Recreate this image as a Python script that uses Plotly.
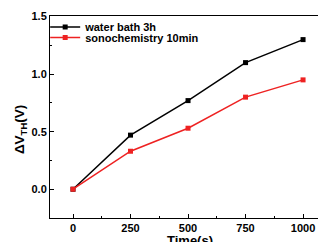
import plotly.graph_objects as go

time_s = [0, 250, 500, 750, 1000]
water_bath = [0.0, 0.47, 0.77, 1.10, 1.30]
sonochem = [0.0, 0.33, 0.53, 0.80, 0.95]
names = ["water bath 3h", "sonochemistry 10min"]
x_ticks = [0, 250, 500, 750, 1000]
y_ticks = [0.0, 0.5, 1.0, 1.5]
x_title = "Time(s)"
y_title = "ΔV<sub>TH</sub>(V)"

font = "Liberation Sans, Arial, sans-serif"

fig = go.Figure()
fig.add_trace(go.Scatter(x=time_s, y=water_bath, name="<b>" + names[0] + "</b>", mode="lines+markers",
                         line=dict(color="black", width=1.5),
                         marker=dict(symbol="square", size=5, color="black"),
                         legend="legend"))
fig.add_trace(go.Scatter(x=time_s, y=sonochem, name="<b>" + names[1] + "</b>", mode="lines+markers",
                         line=dict(color="#ee2222", width=1.5),
                         marker=dict(symbol="square", size=5, color="#ee2222"),
                         legend="legend2"))

leg = dict(xanchor="left", yanchor="middle", bgcolor="rgba(0,0,0,0)", itemwidth=30,
           font=dict(family=font, size=11, color="black"), borderwidth=0)

fig.update_layout(
    width=318, height=242,
    margin=dict(l=50, r=0, t=16, b=24),
    plot_bgcolor="white", paper_bgcolor="white",
    font=dict(family=font, color="black"),
    showlegend=True,
    legend=dict(leg, x=-0.018, y=0.945),
    legend2=dict(leg, x=-0.018, y=0.893),
)
fig.update_xaxes(
    range=[-100, 1065], tickvals=x_ticks, ticktext=["<b>%d</b>" % v for v in x_ticks],
    ticks="inside", ticklen=4, tickwidth=1, tickcolor="black",
    minor=dict(ticks="inside", ticklen=2, dtick=125, tick0=0, tickcolor="black"),
    showline=True, linecolor="black", linewidth=1, mirror=True,
    showgrid=False, zeroline=False,
    tickfont=dict(family=font, size=11, color="black"),
    automargin=False,
)
fig.update_yaxes(
    range=[-0.25, 1.505], tickvals=y_ticks, ticktext=["<b>%.1f</b>" % v for v in y_ticks],
    ticks="inside", ticklen=4, tickwidth=1, tickcolor="black",
    minor=dict(ticks="inside", ticklen=2, dtick=0.25, tick0=0, tickcolor="black"),
    showline=True, linecolor="black", linewidth=1, mirror=False,
    showgrid=False, zeroline=False,
    tickfont=dict(family=font, size=11, color="black"),
    automargin=False,
)
fig.add_annotation(text="<b>" + x_title + "</b>", xref="paper", yref="paper",
                   x=0.522, y=-0.064, xanchor="center", yanchor="top", showarrow=False,
                   font=dict(family=font, size=13, color="black"))
fig.add_annotation(text="<b>" + y_title + "</b>", xref="paper", yref="paper",
                   x=-0.112, y=0.44, xanchor="center", yanchor="middle", showarrow=False,
                   textangle=-90, font=dict(family=font, size=13.5, color="black"))
fig.write_html("out.html", config={"displayModeBar": False},
               post_script="document.body.style.margin='0';document.body.style.overflow='hidden';")
